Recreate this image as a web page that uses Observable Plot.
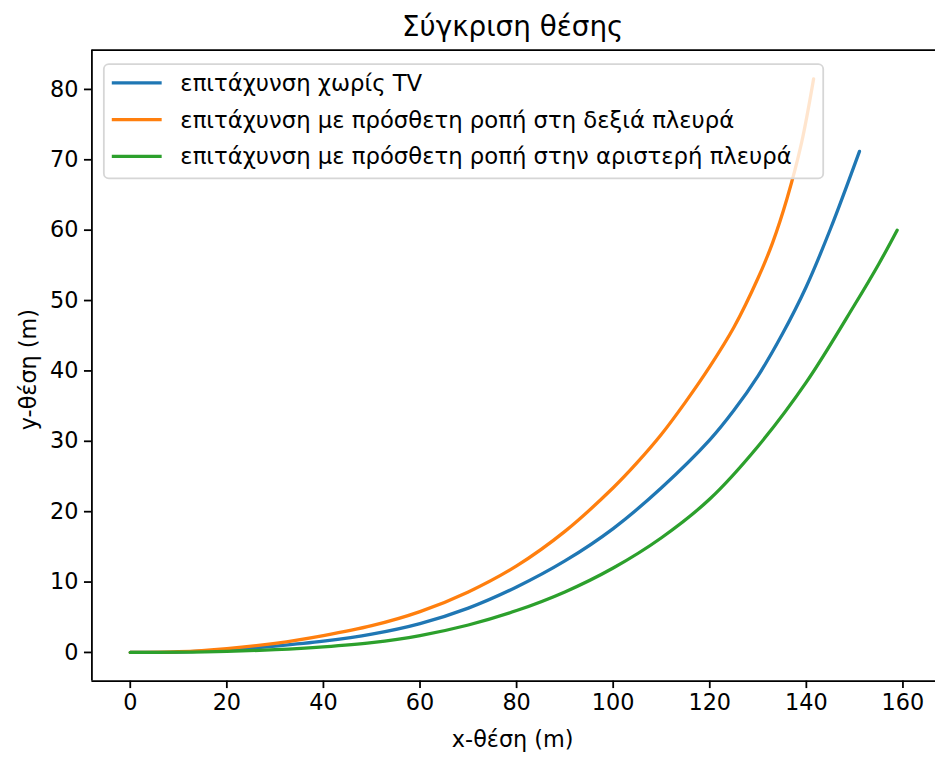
<!DOCTYPE html>
<html><head><meta charset="utf-8">
<script src="https://cdn.jsdelivr.net/npm/d3@7"></script>
<script src="https://cdn.jsdelivr.net/npm/@observablehq/plot@0.6"></script>
<style>
html,body{margin:0;padding:0;background:#fff;overflow:hidden;width:935px;height:758px}
#chart{width:935px;height:758px;overflow:hidden}
</style></head><body><div id="chart"></div>
<script>
const title = "Σύγκριση θέσης";
const xLabel = "x-θέση (m)";
const yLabel = "y-θέση (m)";
const seriesNames = [
  "επιτάχυνση χωρίς TV",
  "επιτάχυνση με πρόσθετη ροπή στη δεξιά πλευρά",
  "επιτάχυνση με πρόσθετη ροπή στην αριστερή πλευρά"
];
const seriesColors = ["#1f77b4", "#ff7f0e", "#2ca02c"];

const xNoTV = [0, 10, 20, 30, 40, 50, 60, 70, 80, 90, 100, 110, 120, 125, 130, 135, 140, 145, 151];
const yNoTV = [0, 0.05, 0.35, 0.9, 1.6, 2.6, 4.1, 6.3, 9.3, 13.0, 17.6, 23.4, 30.2, 34.4, 39.3, 45.2, 52.0, 60.2, 71.2];

const xRight = [0, 10, 20, 30, 40, 50, 60, 70, 80, 90, 100, 105, 110, 115, 120, 125, 130, 133, 136, 139, 141.5];
const yRight = [0, 0.1, 0.55, 1.3, 2.4, 3.8, 5.8, 8.6, 12.3, 17.2, 23.4, 27.0, 31.0, 35.6, 40.6, 46.2, 53.2, 58.2, 64.5, 72.4, 81.5];

const xLeft = [0, 10, 20, 30, 40, 50, 60, 70, 80, 90, 100, 110, 120, 130, 140, 150, 155, 158.8];
const yLeft = [0, 0.03, 0.15, 0.4, 0.8, 1.4, 2.4, 3.9, 5.95, 8.6, 12.0, 16.3, 21.8, 29.3, 38.4, 49.4, 55.2, 60.0];

const xTicks = [0, 20, 40, 60, 80, 100, 120, 140, 160];
const yTicks = [0, 10, 20, 30, 40, 50, 60, 70, 80];

const seriesX = [xNoTV, xRight, xLeft];
const seriesY = [yNoTV, yRight, yLeft];
const rows = [];
seriesNames.forEach((s, i) => seriesX[i].forEach((x, j) => rows.push({s, x, y: seriesY[i][j]})));

function padded(vals) {
  const [a, b] = d3.extent(vals);
  const m = (b - a) * 0.05;
  return [a - m, b + m];
}
const xDomain = padded(rows.map(d => d.x));
const yDomain = padded(rows.map(d => d.y));

const W = 941, H = 758, ML = 92, MT = 50, MB = 73;
const font = "DejaVu Sans";
const FS = 22.5;

const chart = Plot.plot({
  width: W, height: H,
  marginLeft: ML, marginRight: 0, marginTop: MT, marginBottom: MB,
  style: {fontFamily: font, fontSize: FS + "px", color: "#000", background: "#fff", overflow: "visible"},
  x: {domain: xDomain},
  y: {domain: yDomain},
  color: {domain: seriesNames, range: seriesColors},
  marks: [
    Plot.line(rows, {x: "x", y: "y", z: "s", stroke: "s", strokeWidth: 3.3, curve: "catmull-rom"}),
    Plot.ruleX([xDomain[0]], {stroke: "#000", strokeWidth: 1.8}),
    Plot.ruleY([yDomain[0], yDomain[1]], {stroke: "#000", strokeWidth: 1.8}),
    Plot.axisX(xTicks, {tickSize: 7.5, tickPadding: 6, strokeWidth: 1.8, label: null, fontSize: FS, fill: "#000"}),
    Plot.axisY(yTicks, {tickSize: 7.5, tickPadding: 6, strokeWidth: 1.8, label: null, fontSize: FS, fill: "#000"})
  ]
});
document.getElementById("chart").appendChild(chart);

const svg = d3.select(chart);
// title
svg.append("text").attr("x", 516).attr("y", 36).attr("text-anchor", "middle")
  .attr("font-family", font).attr("font-size", 28).attr("fill", "#000").text(title);
// axis labels
svg.append("text").attr("x", 516).attr("y", 752).attr("text-anchor", "middle")
  .attr("font-family", font).attr("font-size", FS).attr("fill", "#000").text(xLabel);
svg.append("text").attr("transform", "translate(36,372) rotate(-90)").attr("text-anchor", "middle")
  .attr("font-family", font).attr("font-size", FS).attr("fill", "#000").text(yLabel);

// legend
const lg = svg.append("g");
lg.append("rect").attr("x", 104.5).attr("y", 64.5).attr("width", 724).attr("height", 115)
  .attr("rx", 5).attr("fill", "rgba(255,255,255,0.8)").attr("stroke", "#d6d6d6").attr("stroke-width", 1.8);
seriesNames.forEach((s, i) => {
  const cy = 83.3 + i * 37;
  lg.append("line").attr("x1", 112.5).attr("x2", 162.7).attr("y1", cy).attr("y2", cy)
    .attr("stroke", seriesColors[i]).attr("stroke-width", 3.3);
  lg.append("text").attr("x", 181.5).attr("y", cy).attr("dy", "0.36em").attr("text-anchor", "start")
    .attr("font-family", font).attr("font-size", 22.9).attr("fill", "#000").text(s);
});
</script></body></html>
